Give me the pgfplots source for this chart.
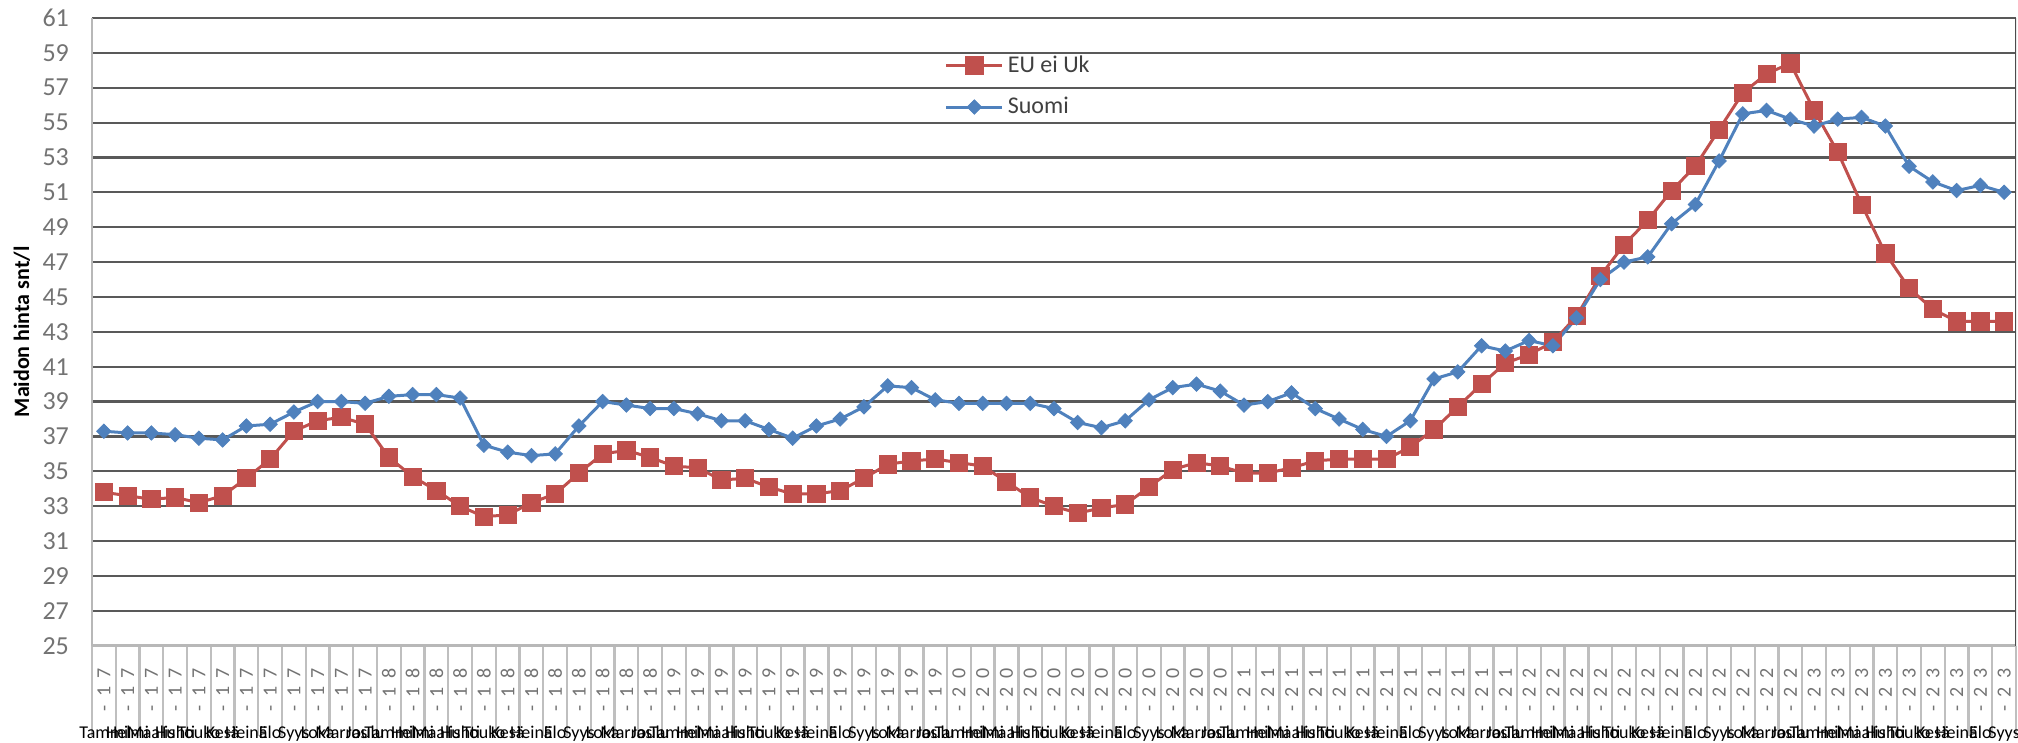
\documentclass[border=0pt]{standalone}
\usepackage{pgfplots}
\pgfplotsset{compat=1.18}
\usepackage{pgfplotstable}
\usepackage{fontspec}
\setmainfont{Carlito}

\definecolor{eured}{HTML}{C0504D}
\definecolor{fiblue}{HTML}{4F81BD}

% Monthly milk price, cents per litre (Jan 2017 -- Sep 2023)
\pgfplotstableread{
i  eu    fi
0  33.8  37.3
1  33.6  37.2
2  33.4  37.2
3  33.5  37.1
4  33.2  36.9
5  33.6  36.8
6  34.6  37.6
7  35.7  37.7
8  37.3  38.4
9  37.9  39.0
10 38.1  39.0
11 37.7  38.9
12 35.8  39.3
13 34.7  39.4
14 33.9  39.4
15 33.0  39.2
16 32.4  36.5
17 32.5  36.1
18 33.2  35.9
19 33.7  36.0
20 34.9  37.6
21 36.0  39.0
22 36.2  38.8
23 35.8  38.6
24 35.3  38.6
25 35.2  38.3
26 34.5  37.9
27 34.6  37.9
28 34.1  37.4
29 33.7  36.9
30 33.7  37.6
31 33.9  38.0
32 34.6  38.7
33 35.4  39.9
34 35.6  39.8
35 35.7  39.1
36 35.5  38.9
37 35.3  38.9
38 34.4  38.9
39 33.5  38.9
40 33.0  38.6
41 32.6  37.8
42 32.9  37.5
43 33.1  37.9
44 34.1  39.1
45 35.1  39.8
46 35.5  40.0
47 35.3  39.6
48 34.9  38.8
49 34.9  39.0
50 35.2  39.5
51 35.6  38.6
52 35.7  38.0
53 35.7  37.4
54 35.7  37.0
55 36.4  37.9
56 37.4  40.3
57 38.7  40.7
58 40.0  42.2
59 41.2  41.9
60 41.7  42.5
61 42.4  42.2
62 43.9  43.8
63 46.2  46.0
64 48.0  47.0
65 49.4  47.3
66 51.1  49.2
67 52.5  50.3
68 54.6  52.8
69 56.7  55.5
70 57.8  55.7
71 58.4  55.2
72 55.7  54.8
73 53.3  55.2
74 50.3  55.3
75 47.5  54.8
76 45.5  52.5
77 44.3  51.6
78 43.6  51.1
79 43.6  51.4
80 43.6  51.0
}\milk

\newcommand\monthname[1]{\ifcase#1 Tammi\or Helmi\or Maalis\or Huhti\or Touko\or Kesä\or Heinä\or Elo\or Syys\or Loka\or Marras\or Joulu\fi}
\def\spaceddigits#1#2{#1\kern4pt#2}

\begin{document}
\begin{tikzpicture}
\begin{axis}[
  scale only axis,
  width=962.5pt, height=314pt,
  xmin=-0.5, xmax=80.5, ymin=25, ymax=61,
  axis x line*=bottom, axis y line*=left,
  x axis line style={-, draw=black!28, line width=1.4pt},
  y axis line style={-, draw=black!28, line width=1.4pt},
  ytick={25,27,...,61},
  ymajorgrids,
  major grid style={draw=black!65, line width=1.1pt},
  xtick={0,...,80},
  minor xtick={-0.5,0.5,...,80.5},
  major tick length=0pt,
  minor tick length=45pt,
  tick align=outside,
  minor tick style={draw=black!25, line width=1.2pt},
  /pgf/number format/assume math mode=true,
  yticklabel style={font=\fontsize{13}{15}\selectfont, text=black!55, xshift=-8pt},
  xticklabel style={anchor=north, yshift=-8pt, inner sep=3.33pt},
  xticklabel={%
    \pgfmathtruncatemacro\mi{mod(\ticknum,12)}%
    \pgfmathtruncatemacro\yy{17+floor(\ticknum/12)}%
    \vbox{\offinterlineskip
      \hbox to 0pt{\hss\rotatebox{90}{\color{black!55}\fontsize{10}{12}\selectfont-\kern4pt\expandafter\spaceddigits\yy}\hss}%
      \vskip 6.8pt
      \hbox to 0pt{\vrule height 7pt width 0pt\hss\fontsize{9}{11}\selectfont\color{black}\monthname{\mi}\hss}}%
  },
  ylabel={Maidon hinta snt/l},
  every axis y label/.style={at={(axis description cs:0,0.5)}, xshift=-35pt, rotate=90, anchor=center, font=\fontsize{11}{13}\selectfont\bfseries},
  legend style={draw=none, fill=none, at={(0.4431,0.947)}, anchor=north west,
    font=\fontsize{12}{14}\selectfont, text=black!75, row sep=7pt, inner sep=0pt},
  legend cell align=left,
  legend image code/.code={\draw[#1, mark repeat=2, mark phase=2] plot coordinates {(0pt,0pt) (14pt,0pt) (28pt,0pt)};},
]
\addplot[eured, line width=1.5pt, mark=square*, mark size=4.3pt, mark options={fill=eured, draw=eured, line width=0.4pt}]
  table[x=i, y=eu] {\milk};
\addlegendentry{EU ei Uk}
\addplot[fiblue, line width=1.5pt, mark=diamond*, mark size=3.6pt, mark options={fill=fiblue, draw=fiblue, line width=0.4pt, xscale=1.33}]
  table[x=i, y=fi] {\milk};
\addlegendentry{Suomi}
\draw[black!70, line width=1pt] (rel axis cs:1,0) -- (rel axis cs:1,1);
\end{axis}
\pgfresetboundingbox
\path[use as bounding box] (-46pt,-48.5pt) rectangle (963.5pt,323pt);
\end{tikzpicture}
\end{document}
